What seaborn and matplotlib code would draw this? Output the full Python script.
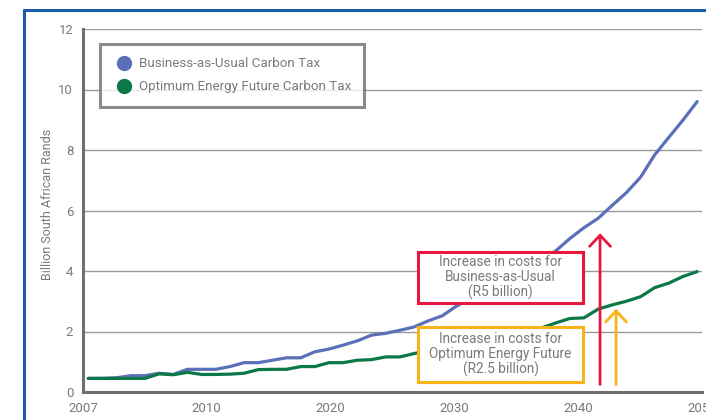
import numpy as np
import pandas as pd
import matplotlib
matplotlib.use("Agg")
import matplotlib.pyplot as plt
from matplotlib.lines import Line2D
from matplotlib.patches import Rectangle
import seaborn as sns

# Annual carbon tax cost, billion rand
years = list(range(2007, 2051))
bau_tax = [0.45, 0.45, 0.47, 0.54, 0.54, 0.62, 0.58, 0.75, 0.75, 0.75,
           0.84, 0.97, 0.97, 1.05, 1.13, 1.13, 1.33, 1.42, 1.55, 1.69,
           1.88, 1.94, 2.04, 2.15, 2.35, 2.52, 2.84, 3.10, 3.36, 3.62,
           3.88, 4.14, 4.40, 4.66, 5.07, 5.43, 5.74, 6.17, 6.59, 7.10,
           7.84, 8.42, 8.99, 9.60]
oef_tax = [0.45, 0.45, 0.45, 0.45, 0.45, 0.60, 0.57, 0.65, 0.58, 0.58,
           0.59, 0.62, 0.74, 0.75, 0.75, 0.84, 0.84, 0.97, 0.97, 1.05,
           1.07, 1.16, 1.16, 1.27, 1.37, 1.46, 1.56, 1.65, 1.75, 1.84,
           1.94, 2.03, 2.12, 2.28, 2.43, 2.45, 2.74, 2.88, 3.00, 3.15,
           3.45, 3.60, 3.82, 3.98]
series_names = ["Business-as-Usual Carbon Tax", "Optimum Energy Future Carbon Tax"]
x_tick_labels = ["2007", "2010", "2020", "2030", "2040", "2050"]
y_ticks = [0, 2, 4, 6, 8, 10, 12]

# Cost increases shown by the arrows
increase_labels = ["Increase in costs for\nBusiness-as-Usual\n(R5 billion)",
                   "Increase in costs for\nOptimum Energy Future\n(R2.5 billion)"]
increase_values = [5.0, 2.5]
arrow_base = 0.25

blue = "#5b70b8"
green = "#0b7847"
red = "#e8173f"
amber = "#f7b318"
text_grey = "#7a7a7a"

df = pd.DataFrame({
    "pos": list(range(len(years))) * 2,
    "year": years * 2,
    "value": bau_tax + oef_tax,
    "series": [series_names[0]] * len(years) + [series_names[1]] * len(years),
})

sns.set_style("white")
plt.rcParams["font.family"] = ["Roboto", "DejaVu Sans"]

fig = plt.figure(figsize=(7.06, 4.2), dpi=100)
ax = fig.add_axes([83 / 706, 28 / 420, 619 / 706, 363 / 420])

sns.lineplot(data=df, x="pos", y="value", hue="series",
             palette=[blue, green], linewidth=2.3, legend=False, ax=ax, zorder=3)

x_lo, x_hi = -0.374, 43.34
ax.set_xlim(x_lo, x_hi)
ax.set_ylim(0, 12)
ax.set_xticks(np.linspace(x_lo, x_hi, len(x_tick_labels)))
ax.set_xticklabels(x_tick_labels)
ax.set_yticks(y_ticks)
ax.tick_params(axis="both", direction="out", length=5, width=1, color="#8a8a8a",
               labelsize=9.5, labelcolor=text_grey, pad=2)
ax.grid(axis="y", color="#9a9a9a", linewidth=1)
ax.grid(axis="x", visible=False)
for side in ["top", "right"]:
    ax.spines[side].set_visible(False)
for side in ["left", "bottom"]:
    ax.spines[side].set_color("#707070")
    ax.spines[side].set_linewidth(2.2)
ax.set_xlabel("")
ax.set_ylabel("Billion South African Rands", fontsize=9.0, color=text_grey)
ax.yaxis.set_label_coords(-0.047, 0.517)

# Legend
handles = [Line2D([], [], marker="o", linestyle="", markersize=10, color=c)
           for c in (blue, green)]
leg = ax.legend(handles, series_names, loc="upper left",
                bbox_to_anchor=(0.0275, 0.9587), borderaxespad=0,
                frameon=True, fancybox=False, fontsize=9.6, labelcolor=text_grey,
                handletextpad=0.3, labelspacing=0.75, borderpad=1.0,
                handlelength=1.6)
leg.get_frame().set_edgecolor("#6e6e6e")
leg.get_frame().set_linewidth(2.2)
leg.set_zorder(5)

# Annotation boxes
boxes = [(0.541, 0.245, 0.267, 0.141, red), (0.541, 0.0275, 0.267, 0.152, amber)]
for (bx, by, bw, bh, col), label in zip(boxes, increase_labels):
    ax.add_patch(Rectangle((bx, by), bw, bh, transform=ax.transAxes,
                           facecolor="white", edgecolor=col, linewidth=2.2, zorder=4))
    ax.text(bx + bw / 2, by + bh / 2, label, transform=ax.transAxes,
            ha="center", va="center", fontsize=9.8, color=text_grey,
            linespacing=1.05, zorder=5)

# Arrows sized by the cost increase
arrow_x = [36.14, 37.27]
for xpos, inc, col in zip(arrow_x, increase_values, [red, amber]):
    ax.annotate("", xy=(xpos, arrow_base + inc), xytext=(xpos, arrow_base),
                arrowprops=dict(arrowstyle="->,head_length=0.8,head_width=0.75",
                                color=col, lw=2.0, mutation_scale=10,
                                shrinkA=0, shrinkB=0),
                zorder=6)

# Page frame
fig.add_artist(Line2D([24 / 706, 24 / 706], [0, 410 / 420], color="#1d5bab",
                      linewidth=2.2, transform=fig.transFigure))
fig.add_artist(Line2D([24 / 706, 1], [410 / 420, 410 / 420], color="#1d5bab",
                      linewidth=2.2, transform=fig.transFigure))

fig.savefig("out.png", dpi=100)
